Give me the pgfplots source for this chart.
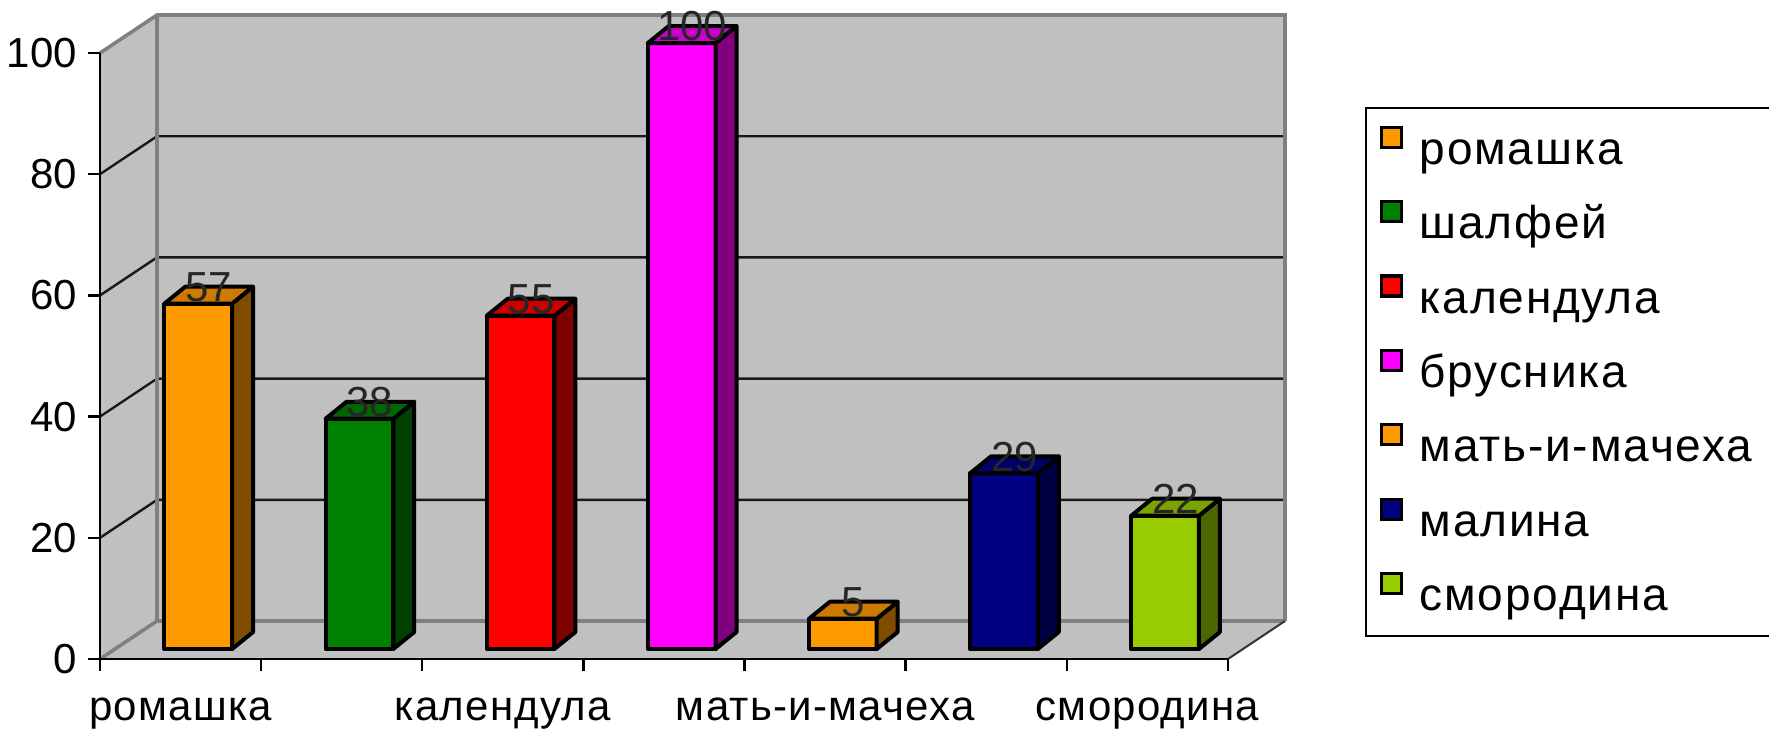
\documentclass[border=0pt]{standalone}
\usepackage{fontspec}
\setmainfont{Liberation Sans}
\usepackage{pgfplots}
\pgfplotsset{compat=1.18}

\definecolor{wall}{HTML}{C0C0C0}
\definecolor{wallb}{HTML}{808080}
\definecolor{orF}{HTML}{FF9900}\definecolor{orS}{HTML}{7F4C00}\definecolor{orT}{HTML}{CC7A00}
\definecolor{grF}{HTML}{008000}\definecolor{grS}{HTML}{004000}\definecolor{grT}{HTML}{006600}
\definecolor{rdF}{HTML}{FF0000}\definecolor{rdS}{HTML}{800000}\definecolor{rdT}{HTML}{CC0000}
\definecolor{mgF}{HTML}{FF00FF}\definecolor{mgS}{HTML}{800080}\definecolor{mgT}{HTML}{CC00CC}
\definecolor{nvF}{HTML}{000080}\definecolor{nvS}{HTML}{000040}\definecolor{nvT}{HTML}{000066}
\definecolor{lmF}{HTML}{99CC00}\definecolor{lmS}{HTML}{4C6600}\definecolor{lmT}{HTML}{7AA300}

% #1 category index, #2 value, #3 colour prefix
\newcommand{\barthreed}[3]{%
  \pgfmathsetmacro\xa{#1+0.40}%
  \pgfmathsetmacro\xb{#1+0.82}%
  \pgfmathsetmacro\xc{#1+0.95}%
  \pgfmathsetmacro\xd{#1+0.53}%
  \pgfmathsetmacro\ya{#2+1.65}%
  \pgfmathsetmacro\yb{#2+4.45}%
  \edef\tmp{%
    \noexpand\addplot[fill=#3F, draw=black, line width=1pt, line join=round, forget plot]
      coordinates {(\xa,1.65) (\xb,1.65) (\xb,\ya) (\xa,\ya)} --cycle;
    \noexpand\addplot[fill=#3S, draw=black, line width=1pt, line join=round, forget plot]
      coordinates {(\xb,1.65) (\xc,4.45) (\xc,\yb) (\xb,\ya)} --cycle;
    \noexpand\addplot[fill=#3T, draw=black, line width=1pt, line join=round, forget plot]
      coordinates {(\xa,\ya) (\xb,\ya) (\xc,\yb) (\xd,\yb)} --cycle;
  }\tmp}

\begin{document}
\begin{tikzpicture}
\useasboundingbox (-25pt,-18pt) rectangle (417.25pt,164.75pt);
\begin{axis}[
  at={(0,0)}, anchor=south west,
  scale only axis, width=282pt, height=151.5pt,
  xmin=0, xmax=7, ymin=0, ymax=100,
  clip=false, axis on top=true,
  axis x line*=bottom, axis y line*=left,
  axis line style={-, black, line width=0.6pt},
  tick style={black, line width=0.6pt},
  tick align=outside, major tick length=3pt,
  ytick={0,20,...,100},
  yticklabel style={font=\fontsize{10.5}{12}\selectfont, xshift=0.8pt},
  /pgf/number format/assume math mode=true,
  xtick={0,...,7}, xticklabels={},
  extra x ticks={0.5,2.5,4.5,6.5},
  extra x tick labels={ромашка,календула,мать-и-мачеха,смородина},
  extra x tick style={major tick length=0pt,
    xticklabel style={font=\fontsize{10.5}{12}\selectfont\addfontfeatures{LetterSpace=3}, anchor=base, yshift=-15.25pt}},
  legend image code/.code={\draw[#1, draw=black, line width=0.8pt] (1.2pt,0.4pt) rectangle (6.2pt,5.4pt);},
  legend style={at={(1.1215,0.911)}, anchor=north west, draw=black, line width=0.5pt,
    font=\fontsize{11.5}{13}\selectfont\addfontfeatures{LetterSpace=4},
    inner xsep=3.4pt, inner ysep=4pt, row sep=6.2pt, column sep=2.2pt,
    nodes={inner ysep=0pt, text height=10.1pt, text depth=2.3pt}},
  legend cell align=left,
]
% walls
\addplot[fill=wall, draw=none, forget plot] coordinates {(0.354,6.27) (7.354,6.27) (7.354,106.27) (0.354,106.27)} --cycle;
\addplot[fill=wall, draw=none, forget plot] coordinates {(0,0) (0.354,6.27) (0.354,106.27) (0,100)} --cycle;
\addplot[fill=wall, draw=none, forget plot] coordinates {(0,0) (7,0) (7.354,6.27) (0.354,6.27)} --cycle;
% gridlines
\addplot[black!90, line width=0.6pt, forget plot] coordinates {(0,20) (0.354,26.27) (7.354,26.27)};
\addplot[black!90, line width=0.6pt, forget plot] coordinates {(0,40) (0.354,46.27) (7.354,46.27)};
\addplot[black!90, line width=0.6pt, forget plot] coordinates {(0,60) (0.354,66.27) (7.354,66.27)};
\addplot[black!90, line width=0.6pt, forget plot] coordinates {(0,80) (0.354,86.27) (7.354,86.27)};
% wall borders
\addplot[wallb, line width=0.9pt, forget plot] coordinates {(0,0) (0.354,6.27) (7.354,6.27)};
\addplot[wallb, line width=0.9pt, forget plot] coordinates {(0,100) (0.354,106.27) (7.354,106.27) (7.354,6.27)};
\addplot[wallb, line width=0.9pt, forget plot] coordinates {(0.354,6.27) (0.354,106.27)};
\addplot[black!80, line width=0.5pt, forget plot] coordinates {(7,0) (7.354,6.27)};
% bars
\barthreed{0}{57}{or}
\barthreed{1}{38}{gr}
\barthreed{2}{55}{rd}
\barthreed{3}{100}{mg}
\barthreed{4}{5}{or}
\barthreed{5}{29}{nv}
\barthreed{6}{22}{lm}
% value labels
\addplot[draw=none, forget plot, nodes near coords, point meta=explicit symbolic,
  nodes near coords style={anchor=base, inner sep=0pt, font=\fontsize{10.5}{12}\selectfont, text=black!85}]
  coordinates {(0.675,59.0)[57] (1.675,40.0)[38] (2.675,57.0)[55] (3.675,102.0)[100] (4.675,7.0)[5] (5.675,31.0)[29] (6.675,24.0)[22]};
% legend
\addlegendimage{fill=orF}\addlegendentry{ромашка}
\addlegendimage{fill=grF}\addlegendentry{шалфей}
\addlegendimage{fill=rdF}\addlegendentry{календула}
\addlegendimage{fill=mgF}\addlegendentry{брусника}
\addlegendimage{fill=orF}\addlegendentry{мать-и-мачеха}
\addlegendimage{fill=nvF}\addlegendentry{малина}
\addlegendimage{fill=lmF}\addlegendentry{смородина}
\end{axis}
\end{tikzpicture}
\end{document}
